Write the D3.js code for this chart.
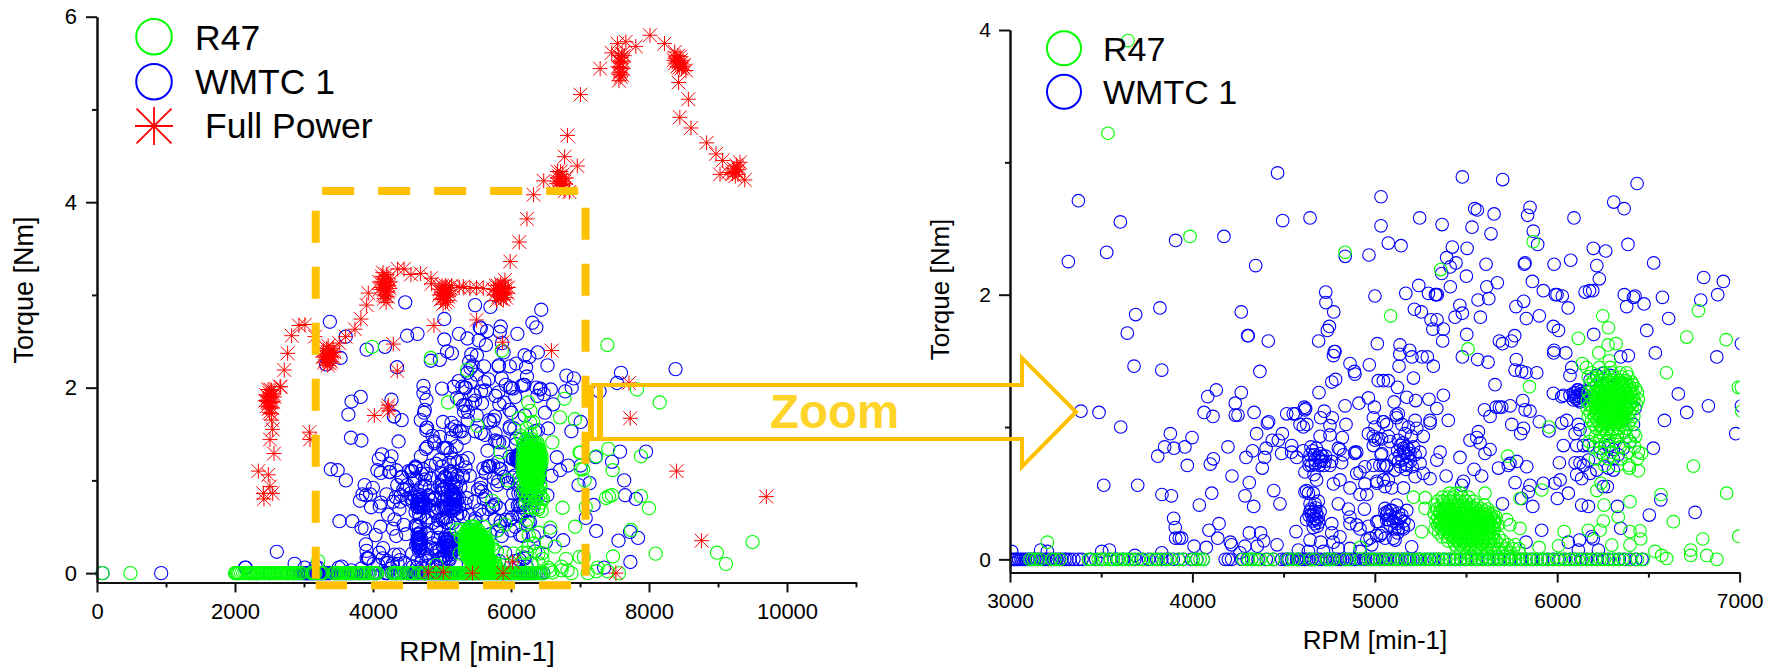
<!DOCTYPE html>
<html lang="en">
<head>
    <meta charset="UTF-8">
    <title>Torque vs RPM</title>
    <script src="https://d3js.org/d3.v7.min.js"></script>
    <style>
        html, body { margin: 0; padding: 0; background: white; }
        svg { display: block; }
        text { font-family: "Liberation Sans", Arial, sans-serif; fill: black; }
        .axis path, .axis line { stroke: #111; stroke-width: 2; }
        .axis text { font-family: "Liberation Sans", Arial, sans-serif; }
    </style>
</head>
<body>
    <svg id="canvas" width="1777" height="668"></svg>
    <script>
        // values: [rpm, torque]
        let wmtcPoints = [
            [80,0],[930,0],[2147,.06],[2606,.23],[2864,.1],[2155,.06],
            [4467,2.92],[3375,2.71],[3605,2.55],[5034,2.74],[4495,2.56],[4645,2.58],[5034,2.52],[3530,2.32],[3320,2.25],[3908,2.41],[4173,2.44],[5074,2.39],[4968,2.30],[4838,2.29],[4347,2.22],[4731,2.02],[4732,1.94],[4775,1.87],[5001,1.99],[3822,1.90],[3689,1.85],[4268,1.87],[3643,1.71],[4303,1.69],[4306,1.69],[4416,1.65],[4751,1.76],[4740,1.73],[4692,1.65],[5014,1.63],[4782,1.57],[4773,1.54],[4778,1.57],[4864,1.48],[4970,1.47],[3680,1.46],[3832,1.43],[4370,1.42],[4888,1.42],
            [5480,2.89],[5701,2.87],[6438,2.84],[6310,2.70],[6367,2.65],[5548,2.65],[5562,2.64],[5654,2.61],[5851,2.66],[5838,2.60],[5246,2.58],[5369,2.53],[5533,2.51],[6092,2.58],[5869,2.48],[5637,2.46],[5893,2.38],[5144,2.37],[6198,2.35],[6266,2.33],[6388,2.38],[5425,2.36],[5506,2.35],[5394,2.28],[5445,2.24],[5413,2.21],[5610,2.23],[5824,2.24],[5820,2.23],[5983,2.23],[6074,2.26],[6217,2.22],[6529,2.24],[5367,2.16],[5502,2.14],[6231,2.12],[5864,2.10],[5924,2.03],[5672,2.09],[5614,2.06],[5414,2.06],[5241,2.07],[5170,2.01],[5294,2.01],[5336,2.00],[5343,2.00],[5332,2.00],[6803,2.13],[6911,2.10],[6880,2.00],[6787,1.96],[6153,2.02],[6177,2.03],[6195,2.03],[5990,2.00],[5999,2.00],[6028,1.99],[6368,2.00],[6427,1.99],[6418,1.98],[6577,1.98],[6476,1.93],[6381,1.91],[5566,1.96],[5625,1.97],[5816,1.95],[5774,1.91],[6060,1.90],[5466,1.92],[5217,1.89],[5255,1.87],[5480,1.86],[5440,1.83],[5579,1.83],[5831,1.82],[5902,1.84],[5308,1.81],[5341,1.81],[5318,1.74],[5376,1.74],[5979,1.76],[6007,1.73],[6611,1.82],[6491,1.73],[6200,1.70],[5504,1.70],[5767,1.69],[5683,1.65],[5749,1.65],[5700,1.63],[5372,1.65],[5138,1.62],[5191,1.58],[5137,1.55],[5204,1.53],[5259,1.53],[5288,1.53],[5133,1.46],[5321,1.46],[6538,1.56],[6875,1.53],[5480,1.53],[5564,1.51],[5621,1.49],[5776,1.51],[5983,1.58],[5981,1.56],[6047,1.56],[6348,1.53],[6390,1.54],[6080,1.45],[7010,1.63],[7010,1.16],
            [4131,1.28],[4084,1.23],[4268,1.26],[4235,1.18],[4064,1.11],[4113,1.08],[4235,1.09],[4250,1.09],[4338,1.11],[3389,1.12],[3488,1.11],[3607,1.00],[3879,.95],[3998,.92],[3848,.85],[3899,.84],[3959,.85],[3810,.78],[3972,.71],[4115,.76],[4098,.72],[4195,.85],[4352,.95],[4418,1.04],[4411,1.03],[4493,.95],[4438,.90],[4471,.90],[4330,.82],[4404,.84],[4294,.77],[4396,.77],[4383,.69],[4217,.63],[4312,.58],[3514,.56],[3700,.56],[3833,.49],[3885,.48],[4106,.50],[4038,.41],[4288,.48],[4336,.40],[4446,.52],[4480,.42],[3897,.31],[3906,.24],[3908,.16],[3928,.16],[3941,.16],[4146,.27],[4091,.22],[4139,.16],[4009,.10],[4076,.09],[4208,.13],[4215,.11],[4312,.20],[4374,.20],[4391,.14],[4464,.11],[4288,.10],[4356,.10],[4261,.05],[4568,.21],[3503,.06],[3545,.07],[3168,.07],[3205,.06],[3009,.06],[3832,.05],[3685,.03],
            [4517,1.10],[4553,1.10],[4566,1.10],[4614,1.15],[4621,1.14],[4617,1.13],[4694,1.26],[4764,1.34],[4785,1.36],[4891,1.40],[4837,1.16],[4913,1.18],[4965,1.22],[4998,1.15],[5019,1.35],[5047,1.35],[5074,1.35],[4723,1.12],[4703,1.07],[4767,1.07],[4842,1.02],[4754,1.01],[4590,1.02],[4608,1.00],[4627,1.02],[4700,.93],[4754,.94],[4822,.92],[4544,.86],[4489,.80],[4572,.77],[4544,.81],[4608,.82],[4650,.85],[4645,.79],[4700,.80],[4672,.75],[4727,.74],[4754,.71],[4763,.74],[4709,.75],[4654,.71],[4617,.66],[4667,.64],[4681,.60],[4800,.84],[4809,.83],[4891,.80],[4901,.81],[4891,.81],[4828,.79],[4818,.73],[4965,.95],[4992,.93],[5019,.91],[5038,.80],[4992,.86],[5065,1.02],[5047,1.04],[5001,1.00],[5074,.93],[4901,.65],[4919,.66],[4946,.70],[5028,.71],[5065,.71],[5010,.59],[4946,.57],[5074,.60],[4773,.57],[4809,.60],[4864,.54],[4919,.49],[4956,.49],[4943,.38],[5056,.55],[4617,.51],[4626,.52],[4636,.50],[4663,.50],[4645,.42],[4672,.42],[4690,.44],[4645,.36],[4663,.34],[4681,.30],[4690,.32],[4626,.30],[4672,.31],[4800,.42],[4764,.27],[4855,.38],[4864,.32],[4864,.27],[4901,.26],[4919,.23],[4965,.25],[5019,.285],[5010,.18],[5065,.335],[5056,.385],[4764,.20],[4645,.146],[4703,.13],[4773,.13],[4809,.17],[4956,.146],[4919,.06],[4800,.083],[4864,.083],[4581,.07],[4636,.06],[4718,.06],[4974,.16],[5038,.197],
            [5212,1.37],[5124,1.30],[5659,1.32],[5769,1.43],[5805,1.42],[5829,1.41],[5888,1.41],[5175,1.225],[5224,1.20],[5297,1.21],[5376,1.24],[5340,1.14],[5106,1.19],[5403,1.05],[5303,1.05],[5303,1.03],[5129,1.10],[5120,1.07],[5117,1.09],[5221,1.05],[5047,1.04],[4992,1.07],[5148,1.02],[5184,1.00],[5230,.99],[5266,.93],[5166,.95],[5202,.93],[5084,.89],[5129,.90],[5038,.91],[5001,.90],[5175,.85],[5157,.84],[5212,.85],[5166,.80],[5193,.80],[5138,.79],[5221,.79],[5248,.81],[5034,.79],[4992,.71],[5047,.71],[5065,.70],[5111,.675],[5175,.71],[5248,.725],[5221,.625],[5266,.65],[5157,.54],[5093,.54],[5011,.575],[5047,.60],[5358,.81],[5340,.75],[5467,.77],[5391,.63],[5303,.61],[5522,.90],[5568,.965],[5559,.92],[5577,.88],[5604,.80],[5632,.83],[5601,1.13],[5632,1.08],[5665,1.15],[5683,1.15],[5696,1.15],[5742,1.16],[5811,1.20],[5824,1.13],[5851,1.12],[5751,1.02],[5815,.99],[5800,.95],[5902,1.04],[5955,.97],[6025,1.03],[6052,1.05],[5979,1.255],[6025,1.23],[6034,1.24],[6034,.86],[6107,.86],[6144,.86],[6171,.86],[6098,.95],[6125,.98],[6116,1.02],[6012,.73],[6098,.73],[6125,.73],[6171,.75],[6144,.71],[6107,.64],[6134,.61],[6180,.65],[6217,.675],[6281,.69],[6308,.675],[5833,.70],[5732,.71],[5741,.725],[5678,.69],[5778,.74],[5544,.68],[5586,.63],[5486,.59],[5477,.56],[5769,.58],[5851,.56],[5842,.51],[5924,.575],[5988,.575],[6016,.60],[6061,.50],[6001,.46],[5805,.46],[5866,.40],[5700,.42],[6134,.41],[6171,.40],[6330,.40],[6505,.335],[6568,.45],[6756,.355],[6348,.235],[5915,.22],[5829,.13],[6061,.13],[6122,.146],[6189,.17],[6198,.155],[6226,.07],[6116,.07],[6664,1.25],[6829,1.16],[6710,1.11],[6588,1.05],[6527,.84],[6979,.95],[6253,.55],[6275,.55],[6281,.86],[6308,.83],[6335,.79],[5202,.095],[5056,.16],[5111,.146],[5084,.37],[5120,.41],[5175,.37],[5056,.35],[5111,.31],[5157,.23],[5084,.26],[5011,.285],[5129,.23],[5184,.26],[5148,.335],[5065,.30],[5029,.18],[5102,.16],[4983,.11],
            [6070,1.24],[6089,1.255],[6116,1.28],[6134,1.255],[6107,1.22],[6089,1.205],[6144,1.22],[6125,1.19],[6162,1.27],[6189,1.23],[6180,1.355],[6217,1.39],[6253,1.406],[6070,1.39],[6217,1.32],[6290,1.39],[6235,.84],[6253,.79],[6308,.76],[6363,.84],[6399,.89],[6418,1.02],[6427,1.14],
            [8385,2.20],[7594,2.16],[7536,2.05],[7283,1.96],[7580,1.31],[7957,1.31],[7226,1.25],[7464,1.20],[7640,1.00],[7654,.84],[7811,.80],[7197,.735],[7083,.595],[7235,.455],[7558,.35],[7725,.445],[7841,.38],[7730,.12],[7349,.06],[7139,.97],
            // tighter knots of the WMTC cloud
            [4668,.79],[4690,.77],[4675,.72],[4712,.78],[4640,.75],[4695,.71],[4730,.78],[4660,.82],[4722,.71],[4680,.84],[4640,.71],[4705,.74],
            [4650,.38],[4667,.36],[4656,.33],[4680,.35],[4672,.27],[4685,.25],[4660,.29],[4692,.28],[4640,.33],[4676,.39],[4663,.24],[4700,.36],
            [5140,.86],[5160,.81],[5150,.75],[5180,.78],[5125,.82],[5170,.72],[5195,.74],[5140,.70],[5185,.83],[5110,.76],[5205,.70],[5155,.88],[5130,.74],[5170,.68],
            [5085,.33],[5100,.29],[5120,.27],[5140,.31],[5095,.37],[5130,.35],[5160,.29],[5075,.30],[5110,.23],[5150,.24],[5070,.36],[5125,.20],
            [6100,1.26],[6115,1.24],[6130,1.27],[6105,1.21],[6125,1.23],[6140,1.25],[6095,1.23],[6120,1.20],[6150,1.24],[6110,1.28]
        ];
        let wmtcZeroRpm = [
            2330,2500,2760,2850,2900,2930,2960,2980,
            3000,3012,3024,3036,3048,3060,3072,3085,3097,3108,3120,3135,3150,3165,3180,3195,3210,3225,3240,3255,3270,3285,3300,3312,3329,
            3350,3375,3395,3440,3470,3505,3550,3585,3620,3650,3685,3720,3760,3805,3832,3860,3895,3925,3950,3995,4025,4060,
            4180,4197,4215,4270,4300,4325,4360,4405,4445,4490,4510,4530,4572,4600,4627,4655,4690,4727,4755,4782,4810,4845,4875,4900,4937,4965,4992,5028,5056,5083,
            4520,4545,4585,4615,4640,4670,4705,4740,4768,4795,4825,4860,4888,4918,4950,4978,5010,5042,5070,
            5100,5115,5130,5150,5165,5180,5197,5210,5230,5250,5275,5300,5325,5350,5380,5410,5440,5470,5500,5530,5560,5590,5620,5650,5680,5710,5740,5770,5800,5830,5860,5890,5920,5950,5980,6010,6040,6070,6100,6130,6160,6190,6220,6250,6280,6310,6340,6370,6400,6430,6465
        ];
        let r47Points = [
            [3987,2.44],[4837,2.32],[5087,1.84],[5868,2.40],[5361,2.19],[6774,1.88],[6250,1.84],[6281,1.75],[6116,1.67],[6710,1.68],[6926,1.66],[6279,1.62],[6323,1.63],[5511,1.59],[6228,1.56],[6286,1.50],[6138,1.48],[6599,1.41],[6381,1.41],
            [5848,1.305],[6993,1.30],[7012,1.12],[6445,1.21],[6409,1.34],[5955,1.00],[6747,.705],[6463,.80],[6929,.50],[6396,.69],[6445,.67],[5729,.78],[6217,.52],[6240,.575],[6569,.49],[6399,.436],[6257,.41],[6335,.32],[6253,.29],[6637,.285],[5915,.524],[6798,.154],[6038,.21],[6171,.22],[6235,.22],[6399,.21],[6454,.216],[6458,.154],[6399,.108],[6299,.108],[6007,.103],[5901,.09],[6995,.175],[6732,.07],[6732,.03],[6820,.03],[6875,0],[6536,.06],[6573,.03],[6600,.007],[5796,.46],[5796,.234],[5741,.26],[5723,.30],[5604,.50],[5212,.47],[5276,.466],[5276,.385],[5257,.21],[3205,.13],[4920,.09],
            [7397,2.46],[7826,1.98],[8155,1.84],[7884,1.26],[7410,1.34],[7235,1.26],[7009,1.30],[7473,1.11],[7045,1.12],[7065,1.0],[7377,.81],[7464,.84],[7420,.83],[7884,.83],[8000,.70],[7083,.71],[7739,.465],[8097,.21],[7478,.18],[8985,.22],[9500,.335],[9115,.10],[7055,.175],[7235,.02],[7112,0],[7399,.02],[7565,0],[7255,.06],[80,0],[485,0]
        ];
        // only in the zoomed panel
        let r47ZoomOnly = [[3647,3.92],[3537,3.22]];
        let r47ZeroRpm = [
            2000,2015,2030,2045,2060,2090,2120,2150,2180,2200,2220,2240,2260,2280,2300,2320,2340,2360,2380,2400,2420,2440,2460,2480,2500,2520,2540,2560,2580,2600,2620,2640,2660,2680,2700,2720,2740,2760,2780,2800,2820,2840,2860,2880,2900,2930,2960,
            3110,3128,3146,3165,3228,3247,3274,3430,3448,3484,3503,3521,3548,3567,3594,3612,3630,3649,3667,3704,3731,3777,3795,3813,3850,3877,3923,3950,4005,4023,4042,4060,
            4279,4307,4325,4343,4371,4416,4444,4526,4553,4581,4645,4672,4736,4754,4773,4837,4864,4919,4965,4983,5001,5028,5056,
            5080,5100,5125,5150,5175,5190,5215,5240,5250,5275,5290,5310,5335,5350,5370,5390,5410,5430,5450,5470,5490,5510,5530,5550,5570,5590,5610,5630,5650,5670,5690,5710,5730,5750,5770,5790,5810,5830,5850,5870,5890,5910,5930,5950,5975,6000,6020,6045,6070,6090,6115,6140,6165,6190,6210,6235,6260,6285,6310,6335,6360,6400,6440,6472
        ];
        // dense R47 clumps, one row per torque level: [torque, rpms]
        let r47LowRows = [
            [.50,[5410,5445,5470]],
            [.47,[5370,5400,5430,5480,5515]],
            [.44,[5345,5375,5410,5440,5465,5500,5540]],
            [.41,[5330,5365,5395,5425,5455,5490,5520,5560,5600]],
            [.395,[5385,5412,5442,5472,5505,5537]],
            [.38,[5340,5370,5400,5430,5460,5490,5525,5555,5585,5620]],
            [.365,[5358,5388,5418,5448,5478,5510,5540,5572,5603]],
            [.35,[5325,5355,5385,5410,5440,5470,5500,5530,5560,5590,5625,5650]],
            [.335,[5370,5395,5425,5452,5485,5515,5547,5578,5610,5640]],
            [.32,[5345,5375,5400,5430,5455,5485,5515,5545,5575,5605,5635,5665]],
            [.305,[5362,5390,5415,5440,5470,5498,5530,5560,5590,5622,5650]],
            [.29,[5335,5360,5390,5420,5450,5475,5505,5535,5565,5595,5625,5660]],
            [.275,[5355,5385,5415,5445,5476,5505,5537,5566,5596,5627,5656]],
            [.26,[5345,5370,5400,5430,5460,5490,5520,5550,5580,5610,5640,5675]],
            [.245,[5378,5408,5437,5468,5498,5528,5562,5594,5625,5650]],
            [.23,[5330,5365,5390,5415,5445,5475,5505,5535,5560,5590,5620,5655]],
            [.215,[5395,5425,5455,5485,5517,5546,5574,5603,5635]],
            [.20,[5350,5380,5410,5440,5470,5500,5530,5555,5585,5615,5650]],
            [.185,[5415,5445,5476,5506,5535,5565,5595,5627]],
            [.17,[5370,5400,5430,5460,5490,5520,5545,5575,5605,5640,5680]],
            [.155,[5440,5470,5505,5530,5560,5590,5620,5652]],
            [.14,[5400,5430,5455,5485,5515,5540,5570,5600,5630,5665,5700]],
            [.11,[5440,5470,5500,5530,5560,5590,5620,5650,5690,5730,5770]],
            [.08,[5450,5490,5520,5550,5580,5610,5640,5680,5720,5760,5790]],
            [.05,[5470,5510,5545,5580,5620,5660,5700,5745,5790]],
            [.02,[5530,5600,5670,5740]]
        ];
        let r47HighRows = [
            [1.45,[6160,6230,6290]],
            [1.41,[6190,6250,6300,6345]],
            [1.38,[6170,6220,6265,6310,6355,6390]],
            [1.35,[6200,6235,6270,6305,6340,6375]],
            [1.335,[6255,6288,6322,6358]],
            [1.32,[6180,6215,6250,6280,6315,6345,6380,6415]],
            [1.305,[6238,6270,6300,6335,6368,6398]],
            [1.29,[6195,6230,6260,6290,6325,6355,6390,6430]],
            [1.275,[6218,6250,6282,6312,6345,6378,6410]],
            [1.26,[6170,6205,6240,6270,6300,6335,6365,6400,6440]],
            [1.245,[6228,6260,6290,6325,6355,6388,6420]],
            [1.23,[6185,6215,6250,6280,6310,6345,6375,6410]],
            [1.215,[6212,6245,6275,6308,6340,6372,6402]],
            [1.20,[6165,6200,6230,6260,6295,6325,6355,6390,6420]],
            [1.185,[6220,6252,6282,6315,6345,6378,6408]],
            [1.17,[6180,6210,6240,6270,6305,6335,6365,6400,6435]],
            [1.155,[6210,6242,6272,6300,6332,6365,6395]],
            [1.14,[6165,6195,6225,6255,6285,6315,6350,6380,6410]],
            [1.125,[6222,6255,6285,6318,6348,6378]],
            [1.11,[6180,6210,6240,6270,6300,6330,6360,6395]],
            [1.095,[6218,6250,6280,6312,6342,6372]],
            [1.08,[6170,6205,6235,6265,6295,6325,6355,6385,6420]],
            [1.065,[6235,6265,6298,6328,6360]],
            [1.05,[6190,6220,6250,6280,6310,6340,6370,6400]],
            [1.035,[6250,6280,6312,6345]],
            [1.02,[6200,6235,6265,6295,6325,6355,6390]],
            [.99,[6215,6250,6280,6310,6340,6375]],
            [.96,[6180,6235,6270,6300,6335,6370,6420]],
            [.93,[6210,6255,6290,6330,6380,6430]],
            [.89,[6175,6230,6280,6320,6400]],
            [.85,[6200,6260,6345,6425]],
            [.81,[6235,6300,6390,6445]],
            [.76,[6210,6280,6350,6440]],
            [.71,[6260,6330,6395]]
        ];
        let fullPowerPoints = [
            [6327,4.08],[6231,3.82],[6120,3.57],[5989,3.36],[5912,3.16],
            [5864,3.04],[5780,3.10],[5820,2.98],[5900,3.10],[5950,3.02],[5760,3.00],[5850,3.12],[5890,2.95],[5800,3.05],[5920,3.07],[5840,3.00],[5870,3.08],[5790,2.94],[5930,2.97],[5830,3.07],[5880,3.02],[5810,3.10],[5855,2.96],[5900,3.00],[5960,3.08],[5745,3.06],
            [5598,3.07],[5501,3.08],[5405,3.07],[5308,3.09],[5250,3.08],[5139,3.10],
            [5043,3.02],[4970,3.06],[5100,3.05],[5010,2.96],[5080,2.94],[5000,3.10],[5060,3.00],[4960,3.00],[5120,3.00],[5030,3.08],[5050,2.92],[4990,3.03],[5070,3.07],[5020,3.00],[5040,3.05],[5090,2.98],[4980,2.95],[5110,3.08],[5015,2.90],[5055,3.10],
            [4849,3.12],[4840,3.18],[4690,3.23],[4550,3.22],[4448,3.28],[4357,3.28],
            [4173,3.11],[4090,3.14],[4250,3.14],[4130,3.20],[4200,3.22],[4160,3.05],[4210,3.03],[4120,3.08],[4240,3.07],[4170,3.17],[4140,3.13],[4190,3.10],[4160,2.96],[4190,2.92],[4215,2.98],[4150,3.00],[4220,3.18],[4100,3.06],[4180,3.00],[4200,3.14],[4145,3.24],[4230,3.10],
            [3932,3.02],[3908,2.89],[3825,2.74],[3738,2.63],[3603,2.55],[3511,2.48],
            [3352,2.37],[3280,2.40],[3420,2.42],[3310,2.30],[3390,2.28],[3350,2.45],[3300,2.35],[3400,2.34],[3330,2.42],[3370,2.30],[3290,2.27],[3430,2.33],[3345,2.24],[3380,2.40],[3320,2.33],[3360,2.35],[3405,2.38],[3270,2.33],[3335,2.27],[3375,2.26],[3440,2.38],
            [3159,2.55],[3014,2.68],[2927,2.67],[2821,2.56],[2763,2.37],[2714,2.19],[2652,2.01],
            [4883,2.67],[5501,2.73],[4294,2.47],[4352,2.18],[5878,2.49],[6588,2.40],
            [2662,2.01],[2507,1.89],[2450,1.92],[2560,1.93],[2480,1.98],[2530,1.97],[2470,1.85],[2550,1.85],[2510,1.80],[2440,1.86],[2570,1.90],[2500,1.94],[2520,1.84],[2490,1.77],[2530,1.90],[2460,1.80],[2540,1.78],[2510,1.98],[2475,1.90],[2495,1.85],[2525,1.72],[2500,1.73],
            [2531,1.65],[2546,1.55],[2507,1.44],[2565,1.29],[2338,1.10],[2483,1.06],[2507,.935],[2546,.86],[2411,.86],[2420,.80],
            [3077,1.52],[3087,1.44],[4019,1.70],[4212,1.78],[4222,1.81],[4236,1.75],
            [4801,.01],[5019,.01],[5442,0],[5885,0],[6023,.12],[7520,0],[7710,2.05],[7728,1.67],[8400,1.10],[8762,.35],[9700,.825],
            [6818,4.72],[6777,4.49],[6961,4.39],[6674,4.33],[6732,4.24],[6660,4.20],[6690,4.26],[6710,4.18],[6750,4.30],[6770,4.22],[6700,4.28],[6745,4.19],[6800,4.26],[6720,4.33],[6680,4.22],[6760,4.15],[6790,4.20],[6474,4.23],[6846,4.11],[6780,4.12],
            [7292,5.44],[7007,5.16],[7460,5.61],[7542,5.71],[7664,5.73],[7809,5.68],[8014,5.80],[8224,5.71],[8373,5.62],
            [7587,5.50],[7560,5.58],[7610,5.60],[7590,5.45],[7620,5.52],[7550,5.46],[7580,5.40],[7610,5.37],[7570,5.52],[7600,5.56],[7565,5.38],[7640,5.58],[7590,5.35],[7625,5.44],[7565,5.31],
            [8429,5.51],[8390,5.55],[8450,5.57],[8410,5.46],[8470,5.50],[8380,5.50],[8440,5.45],[8490,5.46],[8420,5.58],[8460,5.53],[8400,5.52],[8430,5.48],[8510,5.48],[8470,5.44],[8360,5.53],
            [8536,5.42],[8429,5.29],[8570,5.11],[8447,4.915],[8609,4.80],[8835,4.64],[8971,4.52],[9067,4.45],[9029,4.30],[9319,4.43],[9388,4.24],[9145,4.32],
            [9261,4.33],[9230,4.36],[9290,4.30],[9250,4.28],[9280,4.38],[9210,4.31],[9300,4.35],[9265,4.40]
        ];

        let rowsToPoints = function(rows){
            return rows.flatMap(function(row){
                return row[1].map(function(rpm){ return [rpm, row[0]]; });
            });
        };
        let zerosToPoints = function(rpms){
            return rpms.map(function(rpm){ return [rpm, 0]; });
        };
        let wmtcAll = wmtcPoints.concat(zerosToPoints(wmtcZeroRpm));
        let r47All = r47Points.concat(zerosToPoints(r47ZeroRpm), rowsToPoints(r47LowRows), rowsToPoints(r47HighRows));

        let svg = d3.select('#canvas');
        let orange = '#FFC000';

        let starPath = function(r){
            let d = r * 0.92;
            return 'M' + (-r) + ',0L' + r + ',0M0,' + (-r) + 'L0,' + r +
                'M' + (-d) + ',' + (-d) + 'L' + d + ',' + d + 'M' + (-d) + ',' + d + 'L' + d + ',' + (-d);
        };

        function drawCircles(g, points, color, xScale, yScale, radius){
            g.selectAll(null)
                .data(points)
                .enter()
                .append('circle')
                .attr('cx', function(d){ return xScale(d[0]); })
                .attr('cy', function(d){ return yScale(d[1]); })
                .attr('r', radius)
                .attr('fill', 'none')
                .attr('stroke', color)
                .attr('stroke-width', 1.1);
        }

        // axes for one panel: major ticks with labels, minor ones without
        function drawAxes(opts){
            let xAxis = d3.axisBottom(opts.x).tickValues(opts.xMajor).tickFormat(d3.format('d'))
                .tickSize(10).tickSizeOuter(0).tickPadding(opts.xPad);
            let yAxis = d3.axisLeft(opts.y).tickValues(opts.yMajor).tickFormat(d3.format('d'))
                .tickSize(11).tickSizeOuter(0).tickPadding(opts.yPad);
            let xg = svg.append('g').attr('class', 'axis')
                .attr('transform', 'translate(0,' + opts.y.range()[0] + ')').call(xAxis);
            let yg = svg.append('g').attr('class', 'axis')
                .attr('transform', 'translate(' + opts.x.range()[0] + ',0)').call(yAxis);
            xg.selectAll('text').style('font-size', opts.tickFont + 'px').style('fill', 'black');
            yg.selectAll('text').style('font-size', opts.tickFont + 'px').style('fill', 'black');
            svg.append('g').attr('class', 'axis')
                .attr('transform', 'translate(0,' + opts.y.range()[0] + ')')
                .call(d3.axisBottom(opts.x).tickValues(opts.xMinor).tickFormat('').tickSize(5).tickSizeOuter(0));
            svg.append('g').attr('class', 'axis')
                .attr('transform', 'translate(' + opts.x.range()[0] + ',0)')
                .call(d3.axisLeft(opts.y).tickValues(opts.yMinor).tickFormat('').tickSize(5).tickSizeOuter(0));
        }

        function legendEntry(type, cx, cy, r, color, label, tx, ty, size){
            if(type == 'circle'){
                svg.append('circle').attr('cx', cx).attr('cy', cy).attr('r', r)
                    .attr('fill', 'none').attr('stroke', color).attr('stroke-width', 2);
            }else{
                svg.append('path').attr('transform', 'translate(' + cx + ',' + cy + ')')
                    .attr('d', starPath(r)).attr('fill', 'none').attr('stroke', color).attr('stroke-width', 1.8);
            }
            svg.append('text').attr('x', tx).attr('y', ty).style('font-size', size + 'px').text(label);
        }

        // left panel
        let xLeft = d3.scaleLinear().domain([0, 11000]).range([97, 856]);
        let yLeft = d3.scaleLinear().domain([-0.1, 6]).range([582.4, 16.7]);
        let leftMarks = svg.append('g');
        drawCircles(leftMarks, wmtcAll, '#0000ff', xLeft, yLeft, 6.6);
        drawCircles(leftMarks, r47All, '#00ff00', xLeft, yLeft, 6.6);
        leftMarks.selectAll('path.star')
            .data(fullPowerPoints)
            .enter()
            .append('path')
            .attr('class', 'star')
            .attr('transform', function(d){ return 'translate(' + xLeft(d[0]) + ',' + yLeft(d[1]) + ')'; })
            .attr('d', starPath(7.5))
            .attr('fill', 'none')
            .attr('stroke', '#ff0000')
            .attr('stroke-width', 1);
        drawAxes({x: xLeft, y: yLeft, xMajor: [0,2000,4000,6000,8000,10000], xMinor: [1000,3000,5000,7000,9000,11000],
            yMajor: [0,2,4,6], yMinor: [1,3,5], xPad: 11, yPad: 9, tickFont: 22});
        svg.append('text').attr('text-anchor', 'middle')
            .attr('transform', 'translate(33,290) rotate(-90)').style('font-size', '27px').text('Torque [Nm]');
        svg.append('text').attr('x', 477).attr('y', 661).attr('text-anchor', 'middle')
            .style('font-size', '28px').text('RPM [min-1]');
        legendEntry('circle', 154, 36.7, 17.8, '#00ff00', 'R47', 195, 50, 35.5);
        legendEntry('circle', 154, 81.7, 17.8, '#0000ff', 'WMTC 1', 195, 93.5, 35.5);
        legendEntry('star', 154, 126, 19, '#ff0000', 'Full Power', 205, 138, 35.5);

        // right panel, zoomed on the dashed box
        let xRight = d3.scaleLinear().domain([3000, 7000]).range([1010, 1739.6]);
        let yRight = d3.scaleLinear().domain([-0.1, 4]).range([572.6, 30]);
        svg.append('clipPath').attr('id', 'zoomClip').append('rect')
            .attr('x', 1010).attr('y', 20).attr('width', 729.6).attr('height', 553);
        let rightMarks = svg.append('g').attr('clip-path', 'url(#zoomClip)');
        drawCircles(rightMarks, wmtcAll, '#0000ff', xRight, yRight, 6.3);
        drawCircles(rightMarks, r47All.concat(r47ZoomOnly), '#00ff00', xRight, yRight, 6.3);
        drawAxes({x: xRight, y: yRight, xMajor: [3000,4000,5000,6000,7000], xMinor: [3500,4500,5500,6500],
            yMajor: [0,2,4], yMinor: [1,3], xPad: 10, yPad: 8, tickFont: 21});
        svg.append('text').attr('text-anchor', 'middle')
            .attr('transform', 'translate(949,289.5) rotate(-90)').style('font-size', '26px').text('Torque [Nm]');
        svg.append('text').attr('x', 1375).attr('y', 649).attr('text-anchor', 'middle')
            .style('font-size', '26px').text('RPM [min-1]');
        legendEntry('circle', 1064, 48.3, 17, '#00ff00', 'R47', 1103, 61, 34);
        legendEntry('circle', 1064, 91.7, 17, '#0000ff', 'WMTC 1', 1103, 103.7, 34);

        // dashed box on the left panel
        let boxLine = d3.line().x(function(d){ return xLeft(d[0]); }).y(function(d){ return yLeft(d[1]); });
        svg.append('path')
            .attr('d', boxLine([[3263,4.12],[7080,4.12],[7080,-0.13],[3170,-0.13]]))
            .attr('fill', 'none').attr('stroke', orange).attr('stroke-width', 8)
            .attr('stroke-dasharray', '32 24');
        svg.append('path')
            .attr('d', boxLine([[3170,-0.06],[3170,3.97]]))
            .attr('fill', 'none').attr('stroke', orange).attr('stroke-width', 8)
            .attr('stroke-dasharray', '32 24');

        // Zoom arrow
        svg.append('path')
            .attr('d', d3.line()([[591,385],[1022,385],[1022,358],[1076,412],[1022,466.7],[1022,439],[591,439],[591,385]]))
            .attr('fill', 'none').attr('stroke', orange).attr('stroke-width', 4);
        svg.append('rect').attr('x', 588).attr('y', 385).attr('width', 6).attr('height', 54).attr('fill', orange);
        svg.append('rect').attr('x', 597).attr('y', 385).attr('width', 6).attr('height', 54).attr('fill', orange);
        svg.append('text').attr('x', 770).attr('y', 428).style('font-size', '47.5px').style('font-weight', 'bold')
            .style('fill', '#FFD428').text('Zoom');
    </script>
</body>
</html>
